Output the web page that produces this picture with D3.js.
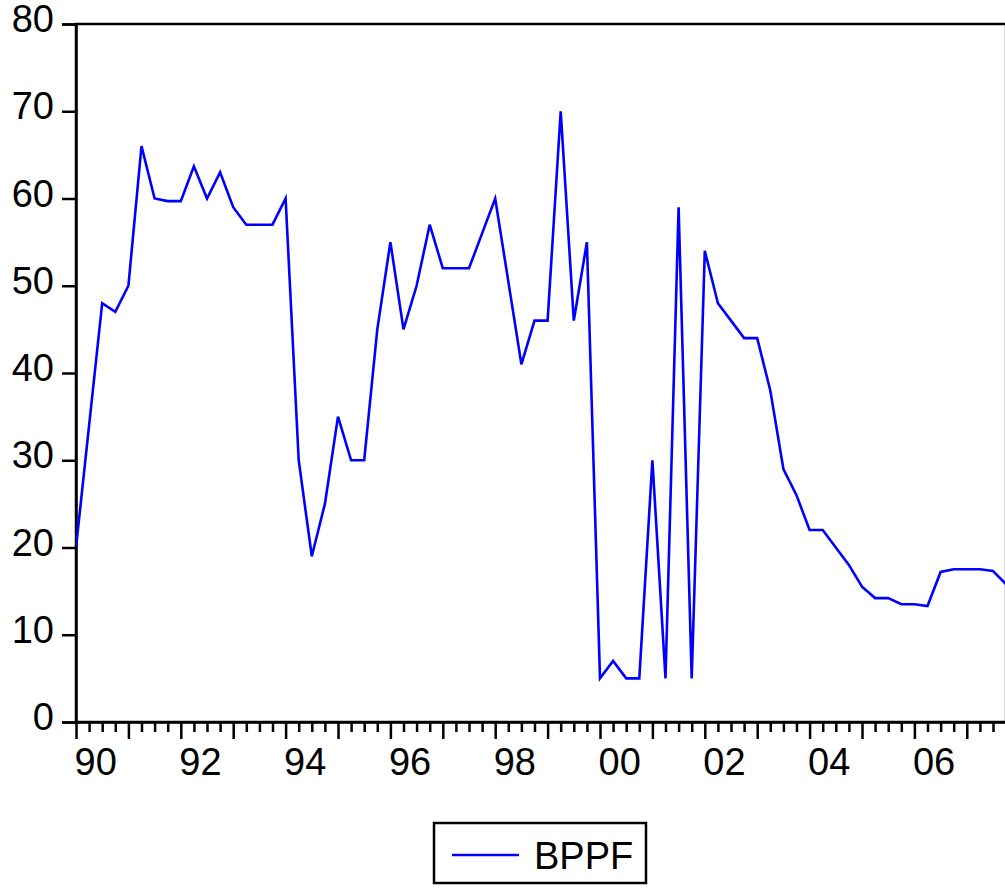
<!DOCTYPE html>
<html>
<head>
<meta charset="utf-8">
<script src="https://cdn.jsdelivr.net/npm/d3@7"></script>
<style>
  body { margin: 0; background: #fff; }
  svg { display: block; font-family: "Liberation Sans", Arial, sans-serif; }
</style>
</head>
<body>
<div id="chart"></div>
<script>
// quarterly series, 1990Q1 .. 2007Q4
var seriesName = "BPPF";
var startYear = 1990;
var bppf = [
  20, 34, 48, 47,  50, 66, 60, 59.7,  59.7, 63.7, 60, 63,  59, 57, 57, 57,
  60, 30, 19, 25,  35, 30, 30, 45,  55, 45, 50, 57,  52, 52, 52, 56,
  60, 50.5, 41, 46,  46, 70, 46, 55,  5, 7, 5, 5,  30, 5, 59, 5,
  54, 48, 46, 44,  44, 38, 29, 26,  22, 22, 20, 18,  15.5, 14.2, 14.2, 13.5,
  13.5, 13.3, 17.2, 17.5,  17.5, 17.5, 17.3, 15.8
];
var yTicks = [0, 10, 20, 30, 40, 50, 60, 70, 80];
var labelYears = [1990, 1992, 1994, 1996, 1998, 2000, 2002, 2004, 2006];

var _width = 1005, _height = 888;
var _left = 76, _top = 24, _bottom = 722;
var _quarterW = 13.1;
var _right = _left + _quarterW * (bppf.length - 1);
var _fontSize = 38;

var svg = d3.select('#chart').append('svg')
    .attr('width', _width)
    .attr('height', _height);

var x = d3.scaleLinear()
    .domain([0, bppf.length - 1])
    .range([_left, _right]);

var y = d3.scaleLinear()
    .domain([0, 80])
    .range([_bottom, _top]);

// plot frame (right edge falls off the page like the original)
svg.append('rect')
    .attr('x', _left).attr('y', _top)
    .attr('width', _right - _left).attr('height', _bottom - _top)
    .attr('fill', 'none')
    .attr('stroke', '#000')
    .attr('stroke-width', 2.5);

// y axis
var yAxis = svg.append('g')
    .attr('transform', 'translate(' + _left + ',0)')
    .call(d3.axisLeft(y).tickValues(yTicks).tickSize(14).tickPadding(8));
yAxis.select('.domain').attr('stroke-width', 2.5);
yAxis.selectAll('.tick line').attr('stroke-width', 2.5);
yAxis.selectAll('.tick text')
    .attr('font-size', _fontSize)
    .attr('font-family', '"Liberation Sans", Arial, sans-serif')
    .attr('fill', '#000')
    .attr('dy', '0.2em');

// x axis: minor quarter ticks, longer yearly ticks
var quarters = d3.range(bppf.length + 1);
var minor = svg.append('g')
    .attr('transform', 'translate(0,' + _bottom + ')')
    .call(d3.axisBottom(x).tickValues(quarters.filter(function(q) { return q % 4 != 0; }))
      .tickSize(10).tickFormat(''));
minor.select('.domain').remove();
minor.selectAll('.tick line').attr('stroke-width', 2.5);

var years = quarters.filter(function(q) { return q % 4 == 0; });
var major = svg.append('g')
    .attr('transform', 'translate(0,' + _bottom + ')')
    .call(d3.axisBottom(x).tickValues(years).tickSize(17).tickSizeOuter(0)
      .tickFormat(function(q) {
        var yr = startYear + q / 4;
        return labelYears.indexOf(yr) >= 0 ? String(yr).slice(2) : '';
      }));
major.select('.domain').attr('stroke-width', 2.5);
major.selectAll('.tick line').attr('stroke-width', 2.5);
major.selectAll('.tick text')
    .attr('font-size', _fontSize)
    .attr('font-family', '"Liberation Sans", Arial, sans-serif')
    .attr('fill', '#000')
    .attr('text-anchor', 'start')
    .attr('x', -2)
    .attr('y', 26)
    .attr('dy', '0.71em');

// series line
svg.append('clipPath').attr('id', 'plotclip')
  .append('rect')
    .attr('x', _left).attr('y', _top)
    .attr('width', _right - _left).attr('height', _bottom - _top);

var line = d3.line()
    .x(function(d, i) { return x(i); })
    .y(function(d) { return y(d); });

svg.append('path')
    .datum(bppf)
    .attr('clip-path', 'url(#plotclip)')
    .attr('fill', 'none')
    .attr('stroke', '#0000ff')
    .attr('stroke-width', 2.6)
    .attr('stroke-linejoin', 'miter')
    .attr('d', line);

// legend
var legend = svg.append('g').attr('transform', 'translate(434,823)');
legend.append('rect')
    .attr('width', 212).attr('height', 60)
    .attr('fill', '#fff')
    .attr('stroke', '#000')
    .attr('stroke-width', 2.5);
legend.append('line')
    .attr('x1', 18).attr('x2', 85)
    .attr('y1', 32).attr('y2', 32)
    .attr('stroke', '#0000ff')
    .attr('stroke-width', 2.6);
legend.append('text')
    .attr('x', 100).attr('y', 46)
    .attr('font-size', _fontSize)
    .attr('fill', '#000')
    .text(seriesName);
</script>
</body>
</html>
